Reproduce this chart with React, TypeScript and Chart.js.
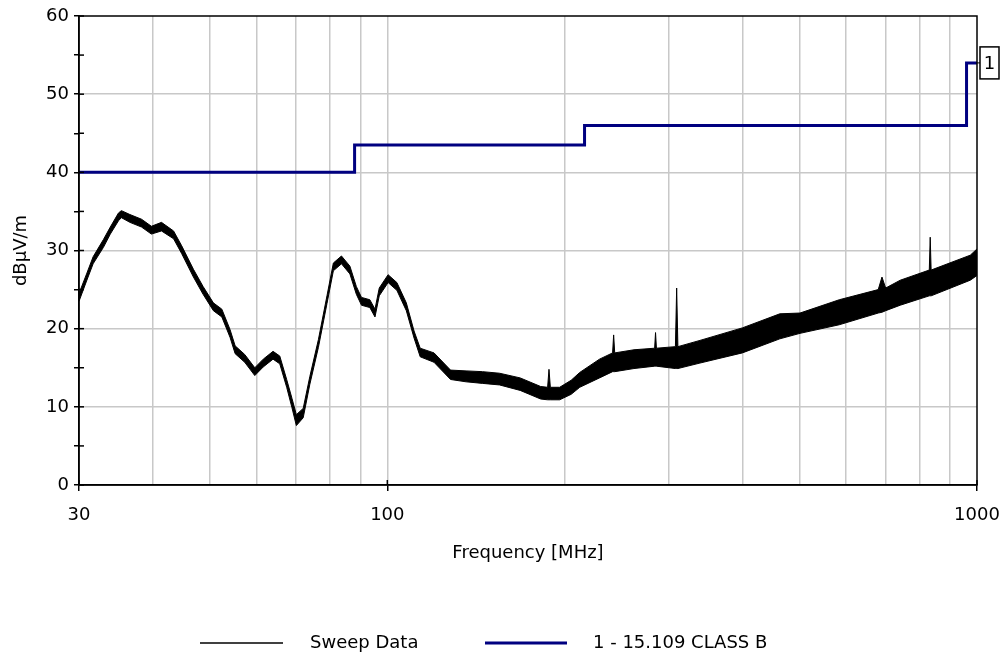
import React, { useEffect, useRef } from "react";
import { Chart, registerables } from "chart.js";

Chart.register(...registerables);

// Sweep data: frequency (MHz) with lower / upper edge of the noisy trace (dBµV/m)
const sweepFreq = [
  30, 30.9, 31.7, 33.0, 33.9, 35.0, 35.4, 36.6, 38.3, 39.8, 41.4, 43.4, 44.8, 46.9, 48.7,
  50.7, 52.4, 54.1, 55.2, 57.3, 59.6, 61.6, 64.0, 65.7, 67.5, 68.9, 70.1, 72.0, 73.9, 76.4,
  79.0, 81.0, 83.6, 86.4, 88.6, 90.4, 93.4, 95.3, 96.9, 100.3, 103.8, 107.7, 111, 113.7, 120,
  128, 136, 145, 155, 168, 182, 187, 188, 189, 196, 205, 212, 229, 241, 242,
  243, 262, 284, 285, 286, 308, 309.5, 311, 339, 400, 463, 501, 584, 680, 690,
  700, 741, 830, 833, 836, 974, 1000,
];
const sweepLow = [
  23.5, 26.1, 28.3, 30.4, 32.1, 33.8, 34.2, 33.6, 33.0, 32.1, 32.5, 31.5, 29.6, 26.6, 24.4,
  22.3, 21.5, 18.9, 16.8, 15.7, 14.0, 15.1, 16.1, 15.5, 12.5, 9.9, 7.6, 8.6, 12.9, 17.6,
  23.2, 27.4, 28.3, 27.0, 24.4, 23.0, 22.7, 21.5, 24.2, 25.9, 24.9, 22.3, 18.8, 16.4, 15.7,
  13.5, 13.2, 13.0, 12.8, 12.1, 11.0, 10.9, 10.9, 10.9, 10.9, 11.6, 12.5, 13.7, 14.5, 14.5,
  14.5, 14.9, 15.2, 15.2, 15.2, 14.9, 14.9, 14.9, 15.6, 16.9, 18.7, 19.4, 20.5, 22.0, 22.1,
  22.3, 23.0, 24.2, 24.2, 24.2, 26.2, 26.8,
];
const sweepHigh = [
  24.5, 27.0, 29.2, 31.4, 33.0, 34.8, 35.1, 34.6, 34.0, 33.1, 33.6, 32.5, 30.6, 27.6, 25.4,
  23.3, 22.5, 19.9, 17.8, 16.7, 15.0, 16.1, 17.1, 16.5, 13.5, 11.1, 9.0, 9.8, 13.9, 18.6,
  24.2, 28.4, 29.3, 28.0, 25.4, 24.0, 23.7, 22.5, 25.2, 26.9, 25.9, 23.3, 19.7, 17.5, 16.9,
  14.7, 14.6, 14.5, 14.3, 13.7, 12.6, 12.5, 14.8, 12.5, 12.5, 13.4, 14.4, 16.1, 16.9, 19.2,
  16.9, 17.3, 17.5, 19.5, 17.5, 17.7, 25.2, 17.7, 18.5, 20.1, 21.9, 22.0, 23.7, 25.0, 26.6,
  25.2, 26.2, 27.5, 31.7, 27.5, 29.4, 30.2,
];

// FCC 15.109 Class B limit (stepped)
const limitFreq = [30, 88, 216, 960, 1000];
const limitLevel = [40, 43.5, 46, 54, 54];

const xGridTicks = [30, 40, 50, 60, 70, 80, 90, 100, 200, 300, 400, 500, 600, 700, 800, 900, 1000];
const xLabelTicks = [30, 100, 1000];
const legendLabels = ["Sweep Data", "1 - 15.109 CLASS B"];
const limitTag = "1";
const xTitle = "Frequency [MHz]";
const yTitle = "dBµV/m";

const FONT_FAMILY = "'DejaVu Sans', sans-serif";
const FONT_SIZE = 18;
const NAVY = "#000080";
const GRID = "#c8c8c8";
const CLEAR = "rgba(0,0,0,0)";

const framePlugin = {
  id: "frameAndExtras",
  afterDraw(chart: any) {
    const { ctx, chartArea } = chart;
    const { left, right, top, bottom } = chartArea;
    ctx.save();
    ctx.strokeStyle = "#000";
    ctx.lineWidth = 1.5;
    ctx.strokeRect(left, top, right - left, bottom - top);
    const ys = chart.scales.y;
    for (let v = 0; v <= 60; v += 5) {
      const py = ys.getPixelForValue(v);
      ctx.beginPath();
      ctx.moveTo(left, py);
      ctx.lineTo(left + 5, py);
      ctx.stroke();
    }
    const xs = chart.scales.x;
    for (const v of xLabelTicks) {
      const px = xs.getPixelForValue(v);
      ctx.beginPath();
      ctx.moveTo(px, bottom);
      ctx.lineTo(px, bottom - 5);
      ctx.stroke();
    }
    // limit tag
    const tagY = ys.getPixelForValue(limitLevel[limitLevel.length - 1]);
    ctx.lineWidth = 1;
    ctx.beginPath();
    ctx.moveTo(right, tagY);
    ctx.lineTo(right + 3, tagY);
    ctx.stroke();
    ctx.fillStyle = "#fff";
    ctx.fillRect(right + 3, tagY - 16, 19, 32);
    ctx.lineWidth = 1.5;
    ctx.strokeRect(right + 3, tagY - 16, 19, 32);
    ctx.fillStyle = "#000";
    ctx.font = `${FONT_SIZE}px ${FONT_FAMILY}`;
    ctx.textAlign = "center";
    ctx.textBaseline = "middle";
    ctx.fillText(limitTag, right + 12.5, tagY + 1);

    // legend
    const ly = 643;
    ctx.textAlign = "left";
    ctx.lineWidth = 1.5;
    ctx.strokeStyle = "#000";
    ctx.beginPath();
    ctx.moveTo(200, ly);
    ctx.lineTo(283, ly);
    ctx.stroke();
    ctx.fillText(legendLabels[0], 310, ly);
    ctx.lineWidth = 3;
    ctx.strokeStyle = NAVY;
    ctx.beginPath();
    ctx.moveTo(485, ly);
    ctx.lineTo(567, ly);
    ctx.stroke();
    ctx.fillText(legendLabels[1], 593, ly);
    ctx.restore();
  },
};

export default function App() {
  const canvasRef = useRef<HTMLCanvasElement>(null);

  useEffect(() => {
    const canvas = canvasRef.current;
    if (!canvas) return;
    const lowPts = sweepFreq.map((f, i) => ({ x: f, y: sweepLow[i] }));
    const highPts = sweepFreq.map((f, i) => ({ x: f, y: sweepHigh[i] }));
    const limitPts = limitFreq.map((f, i) => ({ x: f, y: limitLevel[i] }));
    const font = { family: FONT_FAMILY, size: FONT_SIZE };

    const chart = new Chart(canvas, {
      type: "line",
      data: {
        datasets: [
          {
            label: legendLabels[0] + " low",
            data: lowPts,
            borderColor: "#000",
            borderWidth: 1,
            pointRadius: 0,
            fill: false,
            tension: 0,
          },
          {
            label: legendLabels[0],
            data: highPts,
            borderColor: "#000",
            backgroundColor: "#000",
            borderWidth: 1,
            pointRadius: 0,
            fill: "-1",
            tension: 0,
          },
          {
            label: legendLabels[1],
            data: limitPts,
            borderColor: NAVY,
            borderWidth: 3,
            pointRadius: 0,
            stepped: true,
            fill: false,
          },
        ],
      },
      options: {
        animation: false,
        responsive: false,
        devicePixelRatio: 1,
        layout: { padding: { top: 16, right: 28, left: 0, bottom: 0 } },
        plugins: { legend: { display: false }, tooltip: { enabled: false } },
        scales: {
          x: {
            type: "logarithmic",
            min: 30,
            max: 1000,
            afterBuildTicks: (s: any) => {
              s.ticks = xGridTicks.map((v) => ({ value: v }));
            },
            afterFit: (s: any) => {
              s.height = 173;
              s.paddingLeft = 0;
              s.paddingRight = 0;
            },
            ticks: {
              autoSkip: false,
              maxRotation: 0,
              minRotation: 0,
              padding: 14,
              color: "#000",
              font,
              callback: (v: any) => (xLabelTicks.includes(Number(v)) ? String(v) : ""),
            },
            grid: {
              color: (c: any) =>
                c.tick && (c.tick.value === 30 || c.tick.value === 1000) ? CLEAR : GRID,
              tickColor: (c: any) => (c.tick && xLabelTicks.includes(c.tick.value) ? "#000" : CLEAR),
              tickLength: 6,
              lineWidth: 1.5,
            },
            border: { color: "#000", width: 1.5 },
            title: {
              display: true,
              text: xTitle,
              color: "#000",
              font,
              padding: { top: 0, bottom: 94 },
            },
          },
          y: {
            min: 0,
            max: 60,
            afterFit: (s: any) => {
              s.width = 79;
            },
            ticks: {
              stepSize: 5,
              padding: 5,
              color: "#000",
              font,
              callback: (v: any) => (Number(v) % 10 === 0 ? String(v) : ""),
            },
            grid: {
              color: (c: any) =>
                c.tick && c.tick.value % 10 === 0 && c.tick.value !== 0 && c.tick.value !== 60
                  ? GRID
                  : CLEAR,
              tickColor: "#000",
              tickLength: 5,
              lineWidth: 1.5,
            },
            border: { color: "#000", width: 1.5 },
            title: {
              display: true,
              text: yTitle,
              color: "#000",
              font,
              padding: { top: 11, bottom: 0 },
            },
          },
        },
      },
      plugins: [framePlugin],
    });
    return () => chart.destroy();
  }, []);

  return (
    <div style={{ position: "fixed", left: 0, top: 0, width: 1005, height: 658, background: "#fff" }}>
      <canvas ref={canvasRef} width={1005} height={658} style={{ width: 1005, height: 658 }} />
    </div>
  );
}
